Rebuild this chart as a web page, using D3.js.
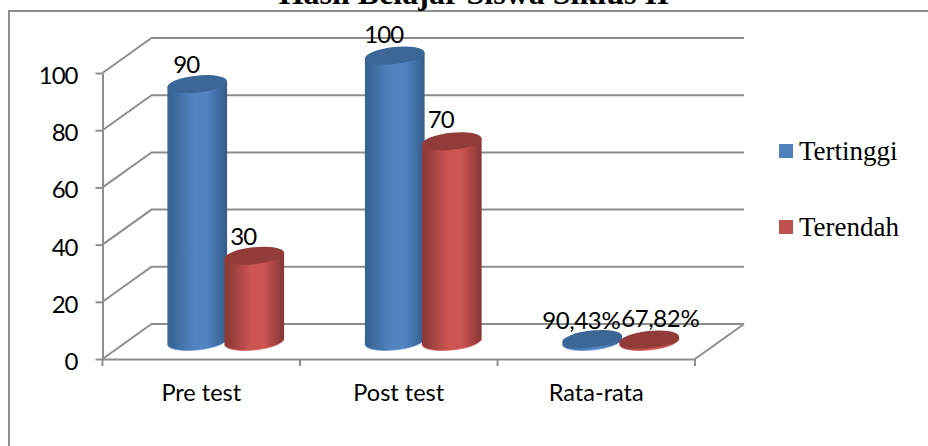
<!DOCTYPE html>
<html>
<head>
<meta charset="utf-8">
<style>
  html, body { margin: 0; padding: 0; background: #fff; }
  svg { display: block; }
</style>
<script src="https://cdn.jsdelivr.net/npm/d3@7/dist/d3.min.js"></script>
</head>
<body>
<svg id="chart" width="928" height="446"></svg>
<script>
const categories = ["Pre test", "Post test", "Rata-rata"];
const seriesNames = ["Tertinggi", "Terendah"];
const tertinggi = [90, 100, 0.9043];
const terendah = [30, 70, 0.6782];
const tertinggiLabels = ["90", "100", "90,43%"];
const terendahLabels = ["30", "70", "67,82%"];
const yTicks = [0, 20, 40, 60, 80, 100];

const W = 928, H = 446;
const GRID = "#8e8e8e";
const UI_FONT = "Lato, 'Open Sans', sans-serif";
const SERIF = "'Liberation Serif', serif";

const depth = { x: 49, y: -35 };
const x = d3.scaleBand().domain(categories).range([102.5, 695]);
const y = d3.scaleLinear().domain([0, 100]).range([359, 73]);
const seriesX = d3.scaleBand().domain(seriesNames).range([-57, 57]);

const svg = d3.select("#chart").attr("viewBox", `0 0 ${W} ${H}`);
const defs = svg.append("defs");

const palette = {
  Tertinggi: { edgeL: "#386595", mid: "#5284c2", edgeR: "#345d8b", top: "#3b6696", rim: "#6a9ad6", key: "#4f81bd" },
  Terendah: { edgeL: "#8f3b39", mid: "#cc5552", edgeR: "#853634", top: "#923c3a", rim: "#d9615d", key: "#c0504d" }
};

seriesNames.forEach(name => {
  const c = palette[name];
  const g = defs.append("linearGradient").attr("id", "body-" + name)
    .attr("x1", 0).attr("x2", 1).attr("y1", 0).attr("y2", 0);
  [[0, c.edgeL], [0.06, c.edgeL], [0.45, c.mid], [0.66, c.mid], [1, c.edgeR]].forEach(([o, col]) =>
    g.append("stop").attr("offset", o).attr("stop-color", col));
});

// Chart frame: only its left and top edges fall inside the window
svg.append("path")
  .attr("d", `M9,${H} V11 H${W}`)
  .attr("fill", "none").attr("stroke", GRID).attr("stroke-width", 2);

// Title, sitting across the top edge of the page
svg.append("text")
  .attr("x", 474).attr("y", 4)
  .attr("text-anchor", "middle")
  .attr("font-family", SERIF).attr("font-weight", "bold").attr("font-size", 32)
  .attr("fill", "#000")
  .text("Hasil Belajar Siswa Siklus II");

// Back wall gridlines and the slanted floor/side lines
const gridLayer = svg.append("g").attr("fill", "none").attr("stroke", GRID).attr("stroke-width", 2);
yTicks.forEach(t => {
  const py = y(t);
  gridLayer.append("path")
    .attr("d", d3.line()([[x.range()[0], py], [x.range()[0] + depth.x, py + depth.y], [x.range()[1] + depth.x, py + depth.y]]));
});
gridLayer.append("path")
  .attr("d", d3.line()([[x.range()[1], y(0)], [x.range()[1] + depth.x, y(0) + depth.y]]));

// Axes
function styleAxis(g) {
  g.selectAll(".domain, line").attr("stroke", GRID).attr("stroke-width", 2);
  g.selectAll("text")
    .attr("font-family", UI_FONT).attr("fill", "#000");
}
const yAxis = svg.append("g")
  .attr("transform", `translate(${x.range()[0]},0)`)
  .call(d3.axisLeft(y).tickValues(yTicks).tickSize(7).tickPadding(18).tickSizeOuter(0))
  .call(styleAxis);
yAxis.selectAll(".tick text")
  .attr("font-size", 24).attr("letter-spacing", -1).attr("dy", "0.44em");

const xAxis = svg.append("g")
  .attr("transform", `translate(0,${y(0)})`)
  .call(d3.axisBottom(x).tickSize(0).tickPadding(25))
  .call(styleAxis);
xAxis.selectAll(".tick text").attr("font-size", 23.5);
xAxis.selectAll(".sep").data([0, 1, 2, 3]).enter().append("line")
  .attr("class", "sep")
  .attr("x1", i => x.range()[0] + i * x.step()).attr("x2", i => x.range()[0] + i * x.step())
  .attr("y1", 0).attr("y2", 7)
  .attr("stroke", GRID).attr("stroke-width", 2);

// Cylinders stand in the middle of the floor depth
const RX = 30, RY = 8.5, TILT = -6;
const rad = TILT * Math.PI / 180;
const ex = Math.sqrt(RX * RX * Math.cos(rad) ** 2 + RY * RY * Math.sin(rad) ** 2);
const ey = Math.sin(-rad) * Math.cos(rad) * (RX * RX - RY * RY) / ex;

function cylinder(cx, value, name) {
  const c = palette[name];
  const base = y(0) + depth.y / 2;
  const top = base - (y(0) - y(value));
  const g = svg.append("g").attr("class", "cylinder");
  const arc = (sweep, px, py) => `A${RX},${RY} ${TILT} 0 ${sweep} ${px},${py}`;
  // Body: left edge up, right edge down, then around the lower half of the base
  g.append("path")
    .attr("d", `M${cx - ex},${top + ey} L${cx + ex},${top - ey} L${cx + ex},${base - ey} ${arc(1, cx - ex, base + ey)} Z`)
    .attr("fill", `url(#body-${name})`);
  g.append("path")
    .attr("d", `M${cx + ex},${base - ey} ${arc(1, cx - ex, base + ey)}`)
    .attr("fill", "none").attr("stroke", c.rim).attr("stroke-width", 1).attr("opacity", 0.7);
  g.append("ellipse")
    .attr("cx", cx).attr("cy", top).attr("rx", RX).attr("ry", RY)
    .attr("transform", `rotate(${TILT} ${cx} ${top})`)
    .attr("fill", c.top);
}

const LABEL_LIFT = 13;
const labelShift = { "90": [0, -2], "30": [0, -2.5], "67,82%": [22, 0], "90,43%": [0, -3] };

function valueLabel(cx, value, text) {
  const base = y(0) + depth.y / 2;
  const top = base - (y(0) - y(value));
  const [dx, dy] = labelShift[text] || [0, 0];
  svg.append("text")
    .attr("x", cx - 11 + dx).attr("y", top - LABEL_LIFT - dy)
    .attr("text-anchor", "middle")
    .attr("font-family", UI_FONT).attr("font-size", 24)
    .attr("letter-spacing", text.length > 3 ? -0.4 : -1)
    .attr("fill", "#000")
    .text(text);
}

const rows = [[tertinggi, tertinggiLabels, "Tertinggi"], [terendah, terendahLabels, "Terendah"]];
const centre = (cat, name) => x(cat) + x.bandwidth() / 2 + depth.x / 2 + seriesX(name) + seriesX.bandwidth() / 2;

categories.forEach((cat, i) => {
  rows.forEach(([vals, , name]) => cylinder(centre(cat, name), vals[i], name));
});
categories.forEach((cat, i) => {
  rows.forEach(([vals, labels, name]) => valueLabel(centre(cat, name), vals[i], labels[i]));
});

// Legend
const legend = d3.scalePoint().domain(seriesNames).range([151, 227]);
seriesNames.forEach(name => {
  svg.append("rect")
    .attr("x", 779).attr("y", legend(name) - 7).attr("width", 14).attr("height", 14)
    .attr("fill", palette[name].key);
  svg.append("text")
    .attr("x", 799).attr("y", legend(name) + 9)
    .attr("font-family", SERIF).attr("font-size", 27).attr("fill", "#000")
    .text(name);
});
</script>
</body>
</html>
